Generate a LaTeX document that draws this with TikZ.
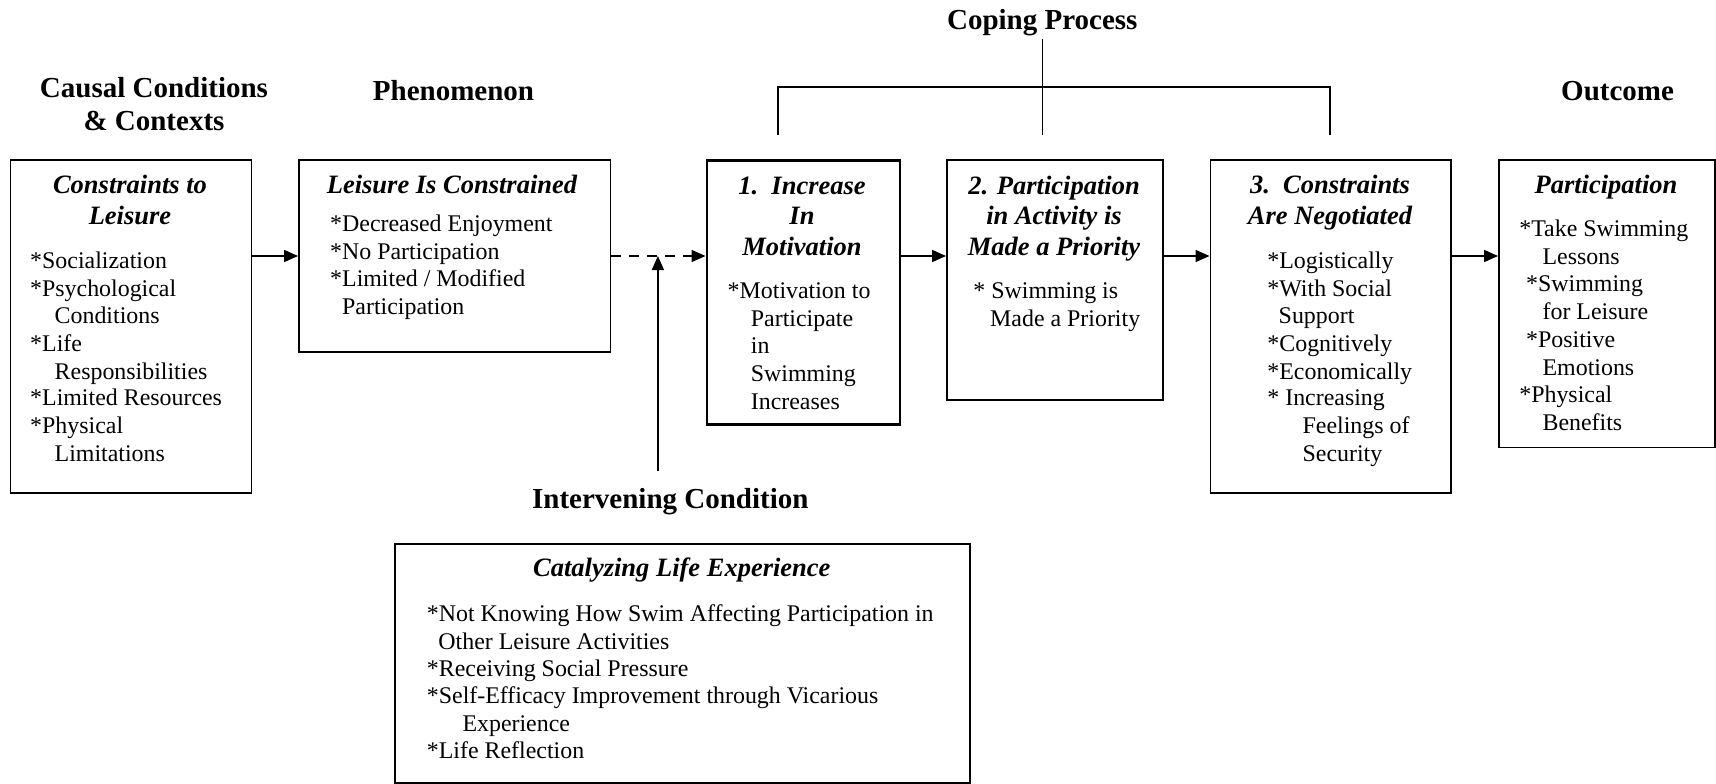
\documentclass[tikz,border=0pt]{standalone}
\usepackage{fontspec}
\setmainfont{Liberation Serif}
\usetikzlibrary{arrows.meta}
\tikzset{
  box/.style={draw, line width=1.6pt, inner sep=0pt, anchor=north west},
  body/.style={anchor=base west, inner sep=0pt, font=\fontsize{23.9}{27.5}\selectfont},
  head/.style={anchor=base, inner sep=0pt, font=\fontsize{26.5}{30}\selectfont\bfseries\itshape},
  ttl/.style={anchor=base, inner sep=0pt, font=\fontsize{29}{33}\selectfont\bfseries},
  conn/.style={line width=1.6pt},
  arr/.style={line width=1.6pt, -{Triangle[length=14pt,width=12pt]}},
}
\newcommand\bline[4]{\node[body] (#1) at (#2,#3) {#4};}
\begin{document}
\begin{tikzpicture}[x=1pt,y=-1pt]
\useasboundingbox (0,0) rectangle (1716,784);
% titles
\node[ttl] (tA1) at (154,97.3) {Causal Conditions};
\node[ttl] (tA2) at (154,130.7) {\& Contexts};
\node[ttl] (tB) at (453.5,100.7) {Phenomenon};
\node[ttl] (tC) at (1042.3,29.3) {Coping Process};
\node[ttl] (tF) at (1617.6,100.7) {Outcome};
\node[ttl] (tG) at (670.3,508.3) {Intervening Condition};
% boxes
\node[box, minimum width=241pt, minimum height=333pt] (A) at (9.5,159) {};
\node[box, minimum width=311.5pt, minimum height=192pt] (B) at (298,159) {};
\node[box, line width=2.6pt, minimum width=193pt, minimum height=264pt] (C) at (705.5,159) {};
\node[box, minimum width=216pt, minimum height=240pt] (D) at (946,159) {};
\node[box, minimum width=240.5pt, minimum height=333pt] (E) at (1209.5,159) {};
\node[box, minimum width=216pt, minimum height=287.5pt] (F) at (1498,159) {};
\node[box, minimum width=575pt, minimum height=239pt] (G) at (394.2,543.3) {};
% box A
\node[head] (hA1) at (130,193.3) {Constraints to};
\node[head] (hA2) at (130,224.3) {Leisure};
\bline{a1}{30}{268.3}{*Socialization}
\bline{a2}{30}{296}{*Psychological}
\bline{a3}{54.5}{323.3}{Conditions}
\bline{a4}{30}{351}{*Life}
\bline{a5}{54.5}{379}{Responsibilities}
\bline{a6}{30}{405.7}{*Limited Resources}
\bline{a7}{30}{433.3}{*Physical}
\bline{a8}{54.5}{461}{Limitations}
% box B
\node[head] (hB1) at (452,193.3) {Leisure Is Constrained};
\bline{b1}{330}{231.7}{*Decreased Enjoyment}
\bline{b2}{330}{259}{*No Participation}
\bline{b3}{330}{286.7}{*Limited / Modified}
\bline{b4}{342}{314}{Participation}
% box C
\node[head] (hC1) at (802,194) {1.\ \ Increase};
\node[head] (hC2) at (802,224.5) {In};
\node[head] (hC3) at (802,255) {Motivation};
\bline{c1}{727.5}{298.3}{*Motivation to}
\bline{c2}{750.7}{326}{Participate}
\bline{c3}{750.7}{353.3}{in}
\bline{c4}{750.7}{381.7}{Swimming}
\bline{c5}{750.7}{409.3}{Increases}
% box D
\node[head] (hD1) at (1054,194) {2. Participation};
\node[head] (hD2) at (1054,224.5) {in Activity is};
\node[head] (hD3) at (1054,255) {Made a Priority};
\bline{d1}{973.2}{298.3}{* Swimming is}
\bline{d2}{990}{326.7}{Made a Priority}
% box E
\node[head] (hE1) at (1330,193.3) {3.\ \ Constraints};
\node[head] (hE2) at (1330,224.3) {Are Negotiated};
\bline{e1}{1267.2}{268.3}{*Logistically}
\bline{e2}{1267.2}{296}{*With Social}
\bline{e3}{1278.5}{323.3}{Support}
\bline{e4}{1267.2}{351}{*Cognitively}
\bline{e5}{1267.2}{379}{*Economically}
\bline{e6}{1267.2}{405.7}{* Increasing}
\bline{e7}{1302.4}{433.3}{Feelings of}
\bline{e8}{1302.4}{461}{Security}
% box F
\node[head] (hF1) at (1606,193.3) {Participation};
\bline{f1}{1519.1}{236.7}{*Take Swimming}
\bline{f2}{1542.4}{264}{Lessons}
\bline{f3}{1526}{291.7}{*Swimming}
\bline{f4}{1542.4}{319.3}{for Leisure}
\bline{f5}{1526}{347.3}{*Positive}
\bline{f6}{1542.4}{375}{Emotions}
\bline{f7}{1519.1}{402.3}{*Physical}
\bline{f8}{1542.4}{430}{Benefits}
% box G
\node[head] (hG1) at (681.8,576.7) {Catalyzing Life Experience};
\bline{g1}{426.7}{621.7}{*Not Knowing How Swim Affecting Participation in}
\bline{g2}{438.2}{649.3}{Other Leisure Activities}
\bline{g3}{426.7}{676.7}{*Receiving Social Pressure}
\bline{g4}{426.7}{703.3}{*Self-Efficacy Improvement through Vicarious}
\bline{g5}{462.3}{731}{Experience}
\bline{g6}{426.7}{758.3}{*Life Reflection}
% connectors
\coordinate (ay) at (0,256);
\draw[arr] (A.east|-ay) -- (B.west|-ay);
\draw[arr, dash pattern=on 10pt off 8pt] (B.east|-ay) -- (C.west|-ay);
\draw[arr] (C.east|-ay) -- (D.west|-ay);
\draw[arr] (D.east|-ay) -- (E.west|-ay);
\draw[arr] (E.east|-ay) -- (F.west|-ay);
\coordinate (ivb) at (657.9,470.6);
\coordinate (ivt) at (657.9,256);
\draw[arr] (ivb) -- (ivt);
% coping bracket
\coordinate (cpTop) at (1042.3,39);
\coordinate (brL) at (778.2,135);
\coordinate (brM) at (1042.3,135);
\coordinate (brR) at (1329.7,135);
\coordinate (hy) at (0,86.7);
\draw[conn] (brL) -- (brL|-hy) -- (brR|-hy) -- (brR);
\draw[conn] (cpTop) -- (brM);
\end{tikzpicture}
\end{document}
